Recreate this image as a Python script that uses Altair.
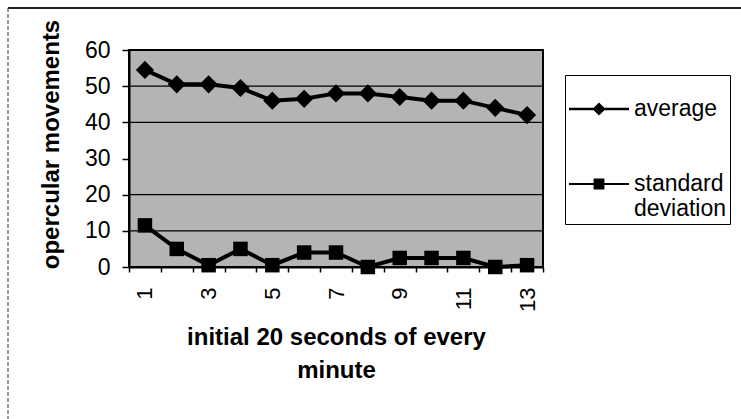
import altair as alt
import pandas as pd

# ---- data ----
minutes = list(range(1, 14))
average = [54.5, 50.5, 50.5, 49.5, 46, 46.5, 48, 48, 47, 46, 46, 44, 42]
std_dev = [11.5, 5, 0.5, 5, 0.5, 4, 4, 0, 2.5, 2.5, 2.5, 0, 0.5]
series_names = ["average", "standard deviation"]
y_ticks = [0, 10, 20, 30, 40, 50, 60]
grid_lines = [10, 20, 40, 50]
x_title = ["initial 20 seconds of every", "minute"]
y_title = "opercular movements"

rows = []
for s, vals in zip(series_names, [average, std_dev]):
    for m, v in zip(minutes, vals):
        rows.append({"minute": m, "value": v, "series": s})
df = pd.DataFrame(rows)
grid_df = pd.DataFrame({"g": grid_lines})
frame_df = pd.DataFrame({"f": [0]})

FONT = "Liberation Sans"

x_enc = alt.X(
    "minute:O",
    scale=alt.Scale(type="band", paddingInner=0, paddingOuter=0),
    axis=alt.Axis(
        title=x_title,
        labelAngle=270,
        labelExpr="datum.value % 2 == 1 ? datum.label : ''",
        labelOverlap=False,
        tickBand="extent",
        tickSize=5,
        tickColor="black",
        tickWidth=1.5,
        domainColor="black",
        domainWidth=2,
        labelFontSize=22,
        labelFont=FONT,
        labelColor="black",
        labelPadding=15,
        titleFont=FONT,
        titleFontSize=24,
        titleFontWeight="bold",
        titleColor="black",
        titleLineHeight=33,
        titleY=70,
        titleBaseline="middle",
        grid=False,
    ),
)

y_axis = alt.Axis(
    values=y_ticks,
    labelOverlap=False,
    title=y_title,
    titleAngle=270,
    titleX=-66,
    titleY=94,
    titleAlign="center",
    titleBaseline="bottom",
    titleFont=FONT,
    titleFontSize=24,
    titleFontWeight="bold",
    titleColor="black",
    labelFont=FONT,
    labelFontSize=23,
    labelColor="black",
    labelPadding=12,
    tickSize=7,
    tickColor="black",
    tickWidth=1.5,
    domainColor="black",
    domainWidth=2,
    grid=False,
)
y_scale = alt.Scale(domain=[0, 60], nice=False)
y_enc = alt.Y("value:Q", scale=y_scale, axis=y_axis)

base = alt.Chart(df)

grid = alt.Chart(grid_df).mark_rule(color="black", strokeWidth=1.3).encode(
    y=alt.Y("g:Q", scale=y_scale, axis=y_axis)
)

lines = base.mark_line(color="black", strokeWidth=4).encode(
    x=x_enc, y=y_enc, detail="series:N"
)

points = base.mark_point(filled=True, color="black", opacity=1).encode(
    x=x_enc,
    y=y_enc,
    shape=alt.Shape(
        "series:N",
        scale=alt.Scale(domain=series_names, range=["diamond", "square"]),
        legend=None,
    ),
    size=alt.Size(
        "series:N",
        scale=alt.Scale(domain=series_names, range=[330, 210]),
        legend=None,
    ),
)

# legend symbols: a filled bar (the line) with the marker on top
diamond_path = "M-1,-0.04H1V0.04H-1ZM0,-0.22L0.22,0L0,0.22L-0.22,0Z"
square_path = "M-1,-0.03H1V0.03H-1ZM-0.18,-0.18H0.18V0.18H-0.18Z"

legend_layer = base.mark_point(
    fill="black", stroke="black", strokeWidth=2, size=3600, opacity=0
).encode(
    x=x_enc,
    y=y_enc,
    shape=alt.Shape(
        "series:N",
        scale=alt.Scale(domain=series_names, range=[diamond_path, square_path]),
        legend=alt.Legend(
            title=None,
            orient="none",
            legendX=436,
            legendY=25,
            strokeColor="black",
            fillColor="white",
            padding=3,
            symbolSize=3600,
            symbolOpacity=1,
            symbolFillColor="black",
            symbolStrokeColor="black",
            symbolStrokeWidth=2,
            labelFont=FONT,
            labelFontSize=23,
            labelColor="black",
            labelOffset=4,
            labelLimit=220,
            rowPadding=32,
            labelExpr="datum.label == 'standard deviation' ? ['standard', 'deviation'] : datum.label",
        ),
    ),
)

top_border = alt.Chart(frame_df).mark_rule(color="#222", strokeWidth=2).encode(
    x=alt.value(-121), x2=alt.value(612), y=alt.value(-42)
)
left_border = alt.Chart(frame_df).mark_rule(
    color="#333", strokeWidth=1, strokeDash=[4, 2]
).encode(x=alt.value(-121), y=alt.value(-42), y2=alt.value(369))

chart = (
    alt.layer(grid, lines, points, legend_layer, top_border, left_border)
    .resolve_scale(shape="independent", size="independent")
    .resolve_legend(shape="independent", size="independent")
    .properties(
        width=414,
        height=217,
        autosize=alt.AutoSizeParams(type="none"),
        padding={"left": 129, "top": 50, "right": 198, "bottom": 152},
        background="white",
    )
    .configure_view(stroke="black", strokeWidth=2, fill="#b4b4b4")
)

chart.save("out.html", embed_options={"renderer": "svg", "actions": False})
